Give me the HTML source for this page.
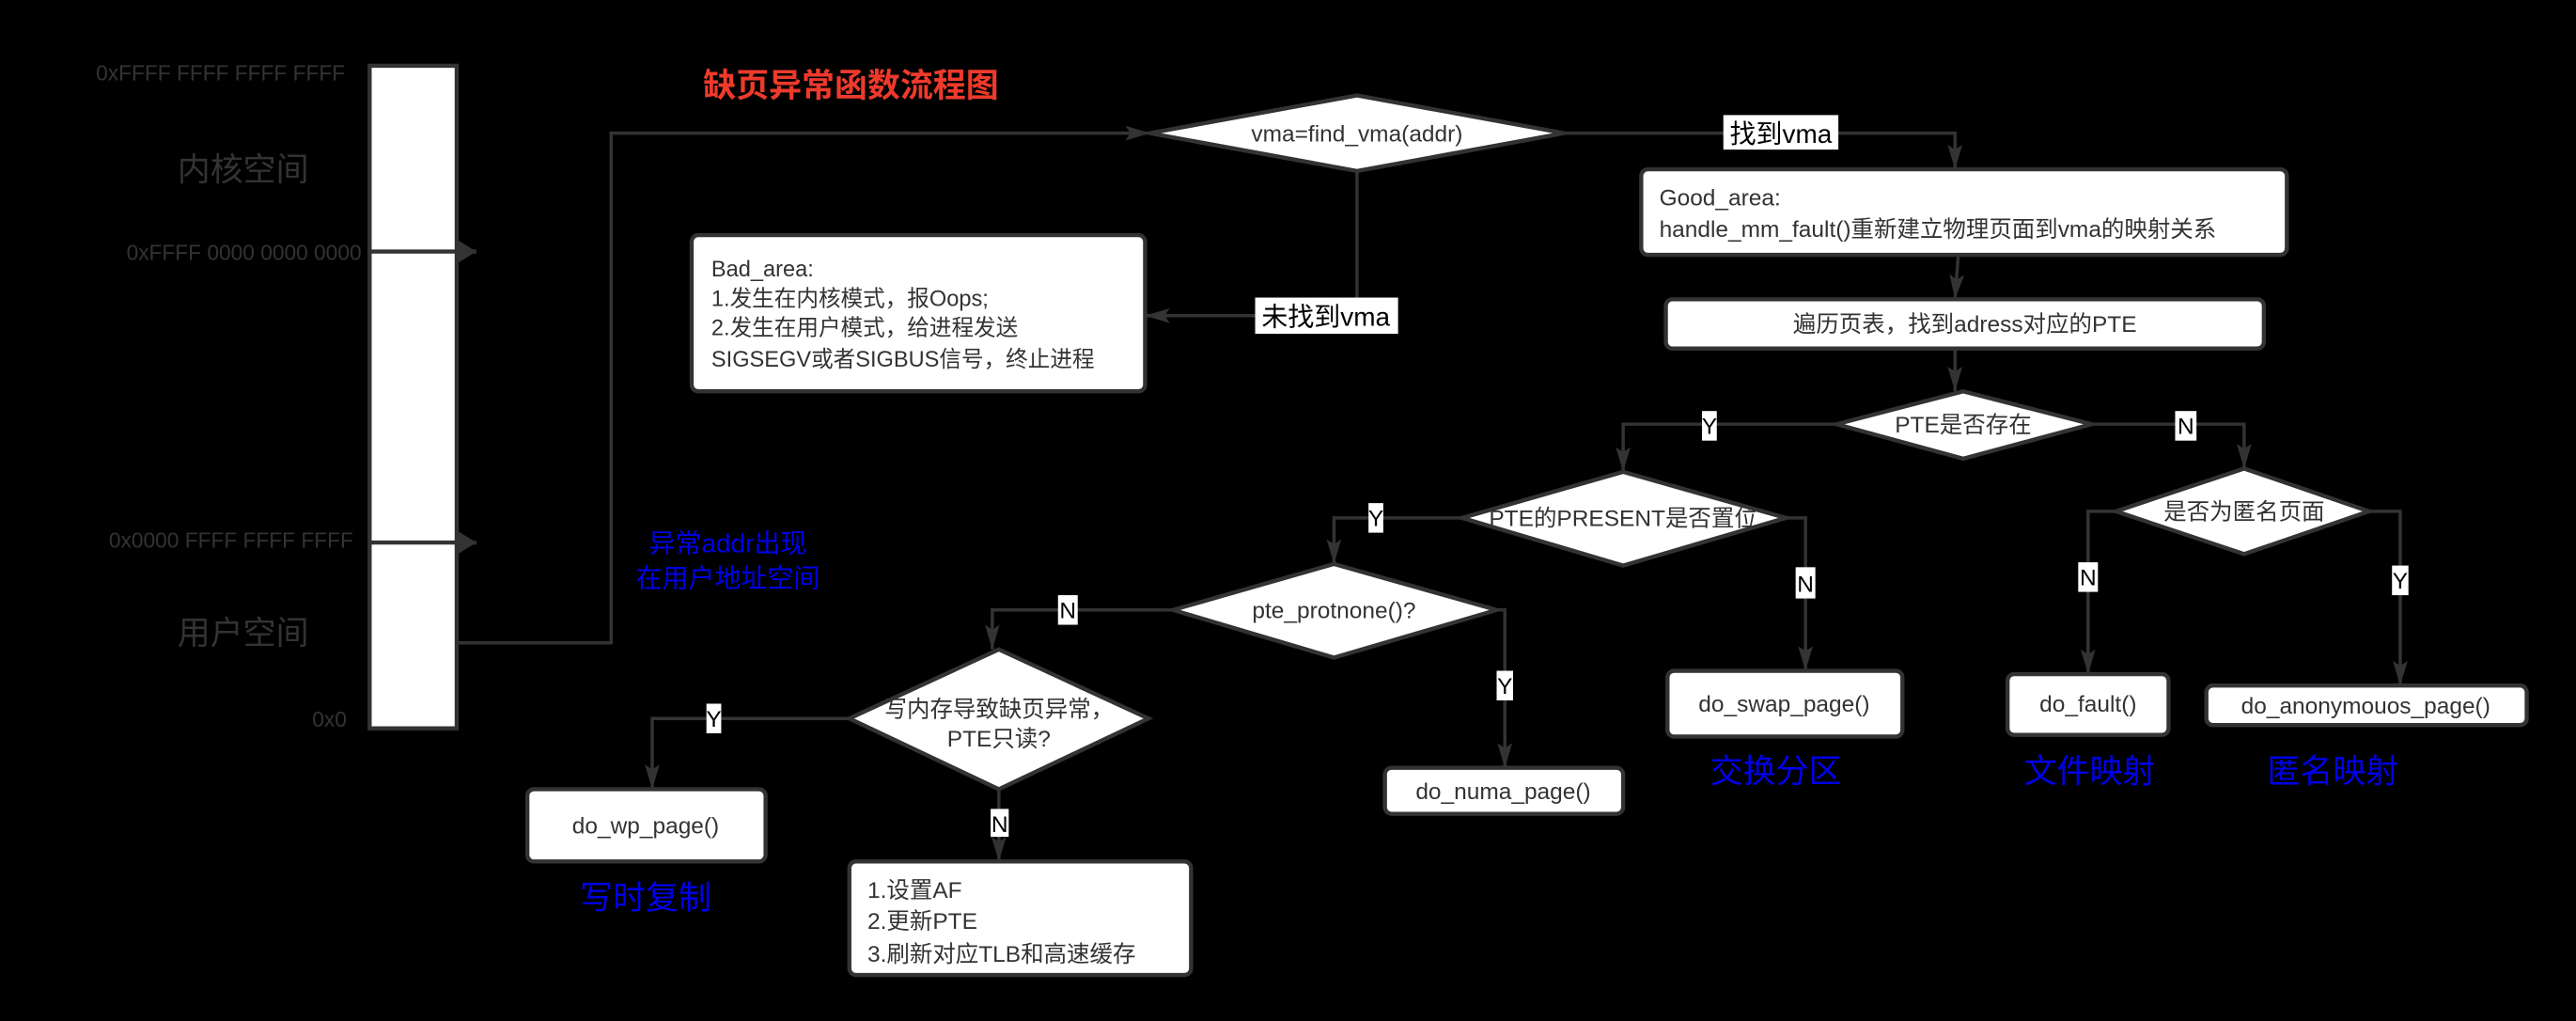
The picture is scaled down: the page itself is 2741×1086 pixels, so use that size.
<!DOCTYPE html>
<html><head><meta charset="utf-8"><style>
html,body{margin:0;padding:0;background:#000;}
svg{display:block;}
text{font-family:"Liberation Sans","Noto Sans CJK SC",sans-serif;}
</style></head><body>
<svg width="2741" height="1086" viewBox="0 0 1568 621" preserveAspectRatio="none" xmlns="http://www.w3.org/2000/svg">
<defs>
<marker id="a" markerUnits="userSpaceOnUse" markerWidth="16" markerHeight="10" refX="15" refY="5" orient="auto"><path d="M0,0.5 L15,5 L0,9.5 L3,5 z" fill="#333"/></marker>
<marker id="b" markerUnits="userSpaceOnUse" markerWidth="14" markerHeight="16" refX="13" refY="8" orient="auto"><path d="M0,0 L13,8 L0,16 z" fill="#333"/></marker>
</defs>
<rect width="1568" height="621" fill="#000"/>
<!-- memory bar -->
<rect x="225" y="40" width="53" height="403" fill="#fff" stroke="#333" stroke-width="2.5"/>
<g fill="#333" font-size="13" text-anchor="end">
<text x="210" y="49">0xFFFF FFFF FFFF FFFF</text>
<text x="220" y="158">0xFFFF 0000 0000 0000</text>
<text x="215" y="333">0x0000 FFFF FFFF FFFF</text>
<text x="211" y="442">0x0</text>
</g>
<g fill="#333" font-size="20">
<text x="108" y="110">内核空间</text>
<text x="108" y="392">用户空间</text>
</g>
<line x1="225" y1="153" x2="290" y2="153" stroke="#333" stroke-width="2.5" marker-end="url(#b)"/>
<line x1="225" y1="330" x2="290" y2="330" stroke="#333" stroke-width="2.5" marker-end="url(#b)"/>
<text x="428" y="59" fill="#ee3a2c" font-size="20" font-weight="bold">缺页异常函数流程图</text>
<g fill="#0000ee" font-size="16" text-anchor="middle">
<text x="443" y="336">异常addr出现</text>
<text x="443" y="357">在用户地址空间</text>
</g>
<g stroke="#333" stroke-width="2" fill="none">
<polyline points="278,391 372,391 372,81 700,81" marker-end="url(#a)"/>
<polyline points="952,81 1190,81 1190,103" marker-end="url(#a)"/>
<polyline points="826,104 826,192 697,192" marker-end="url(#a)"/>
<line x1="1192" y1="155" x2="1190" y2="182" marker-end="url(#a)"/>
<line x1="1190" y1="212" x2="1190" y2="238" marker-end="url(#a)"/>
<polyline points="1118,258 988,258 988,287" marker-end="url(#a)"/>
<polyline points="1273,258 1366,258 1366,285" marker-end="url(#a)"/>
<polyline points="890,315 812,315 812,343" marker-end="url(#a)"/>
<polyline points="1087,315 1099,315 1099,408" marker-end="url(#a)"/>
<polyline points="1288,311 1271,311 1271,410" marker-end="url(#a)"/>
<polyline points="1442,311 1461,311 1461,417" marker-end="url(#a)"/>
<polyline points="714,371 604,371 604,395" marker-end="url(#a)"/>
<polyline points="911,371 916,371 916,467" marker-end="url(#a)"/>
<polyline points="517,437 397,437 397,480" marker-end="url(#a)"/>
<line x1="608" y1="480" x2="608" y2="524" marker-end="url(#a)"/>
</g>
<!-- shapes -->
<g fill="#fff" stroke="#333" stroke-width="2.5">
<polygon points="700,81 826,58 952,81 826,104"/>
<rect x="421" y="143" width="276" height="95" rx="4"/>
<rect x="999" y="103" width="393" height="52" rx="4"/>
<rect x="1014" y="182" width="364" height="30" rx="4"/>
<polygon points="1118,258 1195,238 1273,258 1195,279"/>
<polygon points="890,315 988,287 1087,315 988,344"/>
<polygon points="1288,311 1366,285 1442,311 1366,337"/>
<polygon points="714,371 812,343 911,371 812,400"/>
<polygon points="517,437 608,395 699,437 608,480"/>
<rect x="1015" y="408" width="143" height="40" rx="4"/>
<rect x="1222" y="410" width="98" height="37" rx="4"/>
<rect x="1343" y="417" width="195" height="24" rx="4"/>
<rect x="843" y="467" width="145" height="28" rx="4"/>
<rect x="321" y="480" width="145" height="44" rx="4"/>
<rect x="517" y="524" width="208" height="69" rx="4"/>
</g>
<!-- node text -->
<g fill="#333" font-size="14">
<text x="826" y="86" text-anchor="middle">vma=find_vma(addr)</text>
<text x="433" y="168" font-size="13.5">Bad_area:</text>
<text x="433" y="186" font-size="13.5">1.发生在内核模式，报Oops;</text>
<text x="433" y="204" font-size="13.5">2.发生在用户模式，给进程发送</text>
<text x="433" y="223" font-size="13.5">SIGSEGV或者SIGBUS信号，终止进程</text>
<text x="1010" y="125">Good_area:</text>
<text x="1010" y="144">handle_mm_fault()重新建立物理页面到vma的映射关系</text>
<text x="1196" y="202" text-anchor="middle">遍历页表，找到adress对应的PTE</text>
<text x="1195" y="263" text-anchor="middle">PTE是否存在</text>
<text x="988" y="320" text-anchor="middle">PTE的PRESENT是否置位</text>
<text x="1366" y="316" text-anchor="middle">是否为匿名页面</text>
<text x="812" y="376" text-anchor="middle">pte_protnone()?</text>
<text x="608" y="436" text-anchor="middle">写内存导致缺页异常，</text>
<text x="608" y="454" text-anchor="middle">PTE只读?</text>
<text x="1086" y="433" text-anchor="middle">do_swap_page()</text>
<text x="1271" y="433" text-anchor="middle">do_fault()</text>
<text x="1440" y="434" text-anchor="middle">do_anonymouos_page()</text>
<text x="915" y="486" text-anchor="middle">do_numa_page()</text>
<text x="393" y="507" text-anchor="middle">do_wp_page()</text>
<text x="528" y="546">1.设置AF</text>
<text x="528" y="565">2.更新PTE</text>
<text x="528" y="585">3.刷新对应TLB和高速缓存</text>
</g>
<!-- edge labels -->
<g fill="#fff">
<rect x="1049" y="70" width="70" height="21"/>
<rect x="764" y="181" width="87" height="22"/>
<rect x="1036" y="250" width="9" height="18"/>
<rect x="1324" y="250" width="13" height="18"/>
<rect x="833" y="306" width="9" height="18"/>
<rect x="1093" y="345" width="12" height="19"/>
<rect x="1265" y="342" width="12" height="18"/>
<rect x="1456" y="344" width="10" height="18"/>
<rect x="644" y="362" width="12" height="18"/>
<rect x="911" y="408" width="10" height="18"/>
<rect x="430" y="428" width="9" height="18"/>
<rect x="603" y="492" width="11" height="17"/>
</g>
<g fill="#000" font-size="16" text-anchor="middle">
<text x="1084" y="87">找到vma</text>
<text x="807" y="198">未找到vma</text>
</g>
<g fill="#000" font-size="14" text-anchor="middle">
<text x="1040.5" y="264">Y</text>
<text x="1330.5" y="264">N</text>
<text x="837.5" y="320">Y</text>
<text x="1099" y="360">N</text>
<text x="1271" y="356">N</text>
<text x="1461" y="358">Y</text>
<text x="650" y="376">N</text>
<text x="916" y="422">Y</text>
<text x="434.5" y="442">Y</text>
<text x="608.5" y="506">N</text>
</g>
<g fill="#0000ee" font-size="20" text-anchor="middle">
<text x="1081" y="476">交换分区</text>
<text x="1272" y="476">文件映射</text>
<text x="1420" y="476">匿名映射</text>
<text x="393" y="553">写时复制</text>
</g>
</svg>
</body></html>
